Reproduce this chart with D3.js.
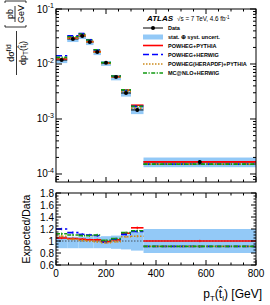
<!DOCTYPE html>
<html>
<head>
<meta charset="utf-8">
<script src="https://cdn.jsdelivr.net/npm/d3@7"></script>
<style>
  body { margin: 0; background: #fff; }
  svg { display: block; font-family: "Liberation Sans", Arial, Helvetica, sans-serif; }
</style>
</head>
<body>
<svg id="chart" width="270" height="305"></svg>
<script>
// bins of p_T(t_l) in GeV
const binEdges = [0, 45, 90, 120, 150, 180, 220, 260, 300, 350, 800];

// measured fiducial cross-section, pb/GeV
const dataXs = [0.0118, 0.0285, 0.0323, 0.0251, 0.0165, 0.0105, 0.0058, 0.00297, 0.00146, 0.000166];
// relative stat uncert. of the data
const dataStat = [0.03, 0.02, 0.02, 0.02, 0.03, 0.03, 0.04, 0.05, 0.07, 0.08];
// stat (+) syst band, relative to data
const bandLo = [0.88, 0.88, 0.88, 0.88, 0.88, 0.88, 0.87, 0.86, 0.84, 0.80];
const bandHi = [1.08, 1.07, 1.07, 1.07, 1.07, 1.08, 1.09, 1.11, 1.15, 1.20];

// Expected/Data
const ratioPowPy = [1.05, 1.04, 1.03, 1.02, 1.02, 0.99, 1.02, 1.13, 1.22, 1.00];
const ratioPowHw = [1.20, 1.14, 1.11, 1.10, 1.09, 0.98, 1.03, 1.11, 1.16, 0.91];
const ratioHera  = [1.08, 1.03, 1.01, 1.00, 0.99, 0.97, 0.99, 1.07, 1.08, 0.91];
const ratioMcnlo = [1.12, 1.10, 1.09, 1.09, 1.10, 1.01, 1.04, 1.14, 1.17, 0.91];

const models = [
  { name: "POWHEG+PYTHIA", ratio: ratioPowPy, color: "#ff0000", dash: null },
  { name: "POWHEG+HERWIG", ratio: ratioPowHw, color: "#0000ff", dash: "6,3" },
  { name: "POWHEG(HERAPDF)+PYTHIA", ratio: ratioHera, color: "#cc8a1c", dash: "1.5,1.5" },
  { name: "MC@NLO+HERWIG", ratio: ratioMcnlo, color: "#119911", dash: "4,1.5,1.2,1.5" }
];

const bandColor = "#93c9f7";

const svg = d3.select("#chart");

const left = 56, right = 256;
const top1 = 9, bot1 = 182;     // main pad
const top2 = 193, bot2 = 265;   // ratio pad

const x = d3.scaleLinear().domain([0, 800]).range([left, right]);
const y = d3.scaleLog().domain([7.15e-5, 0.1]).range([bot1, top1]);
const yr = d3.scaleLinear().domain([0.6, 1.8]).range([bot2, top2]);

const bins = dataXs.map((v, i) => ({
  i: i,
  x0: binEdges[i],
  x1: binEdges[i + 1],
  xc: (binEdges[i] + binEdges[i + 1]) / 2,
  v: v
}));

/** Main pad
------------------------------------------------------------*/

const main = svg.append("g");

main.selectAll("rect.band")
  .data(bins)
  .enter().append("rect")
  .attr("x", d => x(d.x0))
  .attr("width", d => x(d.x1) - x(d.x0))
  .attr("y", d => y(d.v * bandHi[d.i]))
  .attr("height", d => y(d.v * bandLo[d.i]) - y(d.v * bandHi[d.i]))
  .attr("fill", bandColor);

// data horizontal bars
main.selectAll("line.dbar")
  .data(bins)
  .enter().append("line")
  .attr("x1", d => x(d.x0)).attr("x2", d => x(d.x1))
  .attr("y1", d => y(d.v)).attr("y2", d => y(d.v))
  .attr("stroke", "#000").attr("stroke-width", 1);

models.forEach(m => {
  main.append("g").selectAll("line")
    .data(bins)
    .enter().append("line")
    .attr("x1", d => x(d.x0)).attr("x2", d => x(d.x1))
    .attr("y1", d => y(d.v * m.ratio[d.i])).attr("y2", d => y(d.v * m.ratio[d.i]))
    .attr("stroke", m.color)
    .attr("stroke-width", 1.6)
    .attr("stroke-dasharray", m.dash);
});

main.selectAll("line.derr")
  .data(bins)
  .enter().append("line")
  .attr("x1", d => x(d.xc)).attr("x2", d => x(d.xc))
  .attr("y1", d => y(d.v * (1 + dataStat[d.i]))).attr("y2", d => y(d.v * (1 - dataStat[d.i])))
  .attr("stroke", "#000").attr("stroke-width", 1);

main.selectAll("circle")
  .data(bins)
  .enter().append("circle")
  .attr("cx", d => x(d.xc))
  .attr("cy", d => y(d.v))
  .attr("r", 2)
  .attr("fill", "#000");

/** Ratio pad
------------------------------------------------------------*/

const rat = svg.append("g");

rat.selectAll("rect")
  .data(bins)
  .enter().append("rect")
  .attr("x", d => x(d.x0))
  .attr("width", d => x(d.x1) - x(d.x0))
  .attr("y", d => yr(2 - bandLo[d.i]))
  .attr("height", d => yr(bandLo[d.i]) - yr(2 - bandLo[d.i]))
  .attr("fill", bandColor);

// the band is asymmetric: redraw with real edges
rat.selectAll("rect")
  .attr("y", d => yr(bandHi[d.i]))
  .attr("height", d => yr(bandLo[d.i]) - yr(bandHi[d.i]));

rat.append("line")
  .attr("x1", left).attr("x2", right)
  .attr("y1", yr(1)).attr("y2", yr(1))
  .attr("stroke", "#333").attr("stroke-width", 0.8)
  .attr("stroke-dasharray", "1.5,1.5");

models.forEach(m => {
  const g = rat.append("g");
  g.selectAll("line.h")
    .data(bins)
    .enter().append("line")
    .attr("x1", d => x(d.x0)).attr("x2", d => x(d.x1))
    .attr("y1", d => yr(m.ratio[d.i])).attr("y2", d => yr(m.ratio[d.i]))
    .attr("stroke", m.color)
    .attr("stroke-width", 1.6)
    .attr("stroke-dasharray", m.dash);
  g.selectAll("line.v")
    .data(bins)
    .enter().append("line")
    .attr("x1", d => x(d.xc)).attr("x2", d => x(d.xc))
    .attr("y1", d => yr(m.ratio[d.i] + 0.02)).attr("y2", d => yr(m.ratio[d.i] - 0.02))
    .attr("stroke", m.color)
    .attr("stroke-width", 1);
});

/** Frames and ticks
------------------------------------------------------------*/

function frame(y0, y1) {
  svg.append("rect")
    .attr("x", left).attr("y", y0)
    .attr("width", right - left).attr("height", y1 - y0)
    .attr("fill", "none").attr("stroke", "#000").attr("stroke-width", 1);
}

function xTicks(y0, y1) {
  const major = d3.range(0, 801, 200);
  const minor = d3.range(0, 801, 50).filter(v => v % 200 !== 0);
  const tk = svg.append("g").attr("stroke", "#000").attr("stroke-width", 1);
  [[major, 5], [minor, 2.5]].forEach(([vals, len]) => {
    vals.forEach(v => {
      tk.append("line").attr("x1", x(v)).attr("x2", x(v)).attr("y1", y1).attr("y2", y1 - len);
      tk.append("line").attr("x1", x(v)).attr("x2", x(v)).attr("y1", y0).attr("y2", y0 + len);
    });
  });
}

function yTicks(scale, vals, len) {
  const tk = svg.append("g").attr("stroke", "#000").attr("stroke-width", 1);
  vals.forEach(v => {
    tk.append("line").attr("x1", left).attr("x2", left + len).attr("y1", scale(v)).attr("y2", scale(v));
    tk.append("line").attr("x1", right).attr("x2", right - len).attr("y1", scale(v)).attr("y2", scale(v));
  });
}

frame(top1, bot1);
frame(top2, bot2);
xTicks(top1, bot1);
xTicks(top2, bot2);

const decades = [1e-4, 1e-3, 1e-2, 1e-1];
const logMinor = [];
[1e-5, 1e-4, 1e-3, 1e-2].forEach(p => {
  for (let k = 2; k <= 9; k++) {
    const v = k * p;
    if (v >= y.domain()[0] && v <= y.domain()[1]) logMinor.push(v);
  }
});
yTicks(y, decades, 6);
yTicks(y, logMinor, 3);

const rMajor = d3.range(0.6, 1.81, 0.2);
const rMinor = d3.range(0.6, 1.8, 0.05).filter(v => Math.abs((v - 0.6) / 0.2 - Math.round((v - 0.6) / 0.2)) > 0.01);
yTicks(yr, rMajor, 5);
yTicks(yr, rMinor, 2.5);

/** Tick labels
------------------------------------------------------------*/

const yLab = svg.append("g").attr("font-size", 10).attr("fill", "#000");
decades.forEach(v => {
  const t = yLab.append("text")
    .attr("x", left - 2)
    .attr("y", y(v) + 3.5)
    .attr("text-anchor", "end");
  t.append("tspan").text("10");
  t.append("tspan").attr("font-size", 7).attr("dy", -4.5).text("-" + Math.round(-Math.log10(v)));
});

rMajor.forEach(v => {
  yLab.append("text")
    .attr("x", left - 2)
    .attr("y", yr(v) + 3.5)
    .attr("text-anchor", "end")
    .text(d3.format("~g")(+v.toFixed(1)));
});

d3.range(0, 801, 200).forEach(v => {
  yLab.append("text")
    .attr("x", x(v))
    .attr("y", bot2 + 12)
    .attr("text-anchor", "middle")
    .text(v);
});

/** Axis titles
------------------------------------------------------------*/

const xt = svg.append("text")
  .attr("x", 262).attr("y", 298)
  .attr("text-anchor", "end")
  .attr("font-size", 12);
xt.append("tspan").text("p");
xt.append("tspan").attr("font-size", 8).attr("dy", 3).text("T");
xt.append("tspan").attr("dy", -3).text("(t\u0302");
xt.append("tspan").attr("font-size", 8).attr("dy", 3).text("l");
xt.append("tspan").attr("dy", -3).text(") [GeV]");

svg.append("text")
  .attr("transform", `translate(30, ${(top2 + bot2) / 2}) rotate(-90)`)
  .attr("text-anchor", "middle")
  .attr("font-size", 10.5)
  .text("Expected/Data");

// dsigma/dpT [pb/GeV], drawn rotated
const yt = svg.append("g").attr("transform", "rotate(-90)").attr("font-size", 9);

const num = yt.append("text").attr("x", -53).attr("y", 14).attr("text-anchor", "middle");
num.append("tspan").text("d\u03c3");
num.append("tspan").attr("font-size", 6.5).attr("dy", -3.5).text("fid");

yt.append("line").attr("x1", -75).attr("x2", -31).attr("y1", 16.5).attr("y2", 16.5)
  .attr("stroke", "#000").attr("stroke-width", 0.8);

const den = yt.append("text").attr("x", -53).attr("y", 25.5).attr("text-anchor", "middle");
den.append("tspan").text("dp");
den.append("tspan").attr("font-size", 6.5).attr("dy", 2.5).text("T");
den.append("tspan").attr("dy", -2.5).text("(t\u0302");
den.append("tspan").attr("font-size", 6.5).attr("dy", 2.5).text("l");
den.append("tspan").attr("dy", -2.5).text(")");

yt.append("text").attr("x", -14).attr("y", 13).attr("text-anchor", "middle").text("pb");
yt.append("line").attr("x1", -22).attr("x2", -6).attr("y1", 15).attr("y2", 15)
  .attr("stroke", "#000").attr("stroke-width", 0.8);
yt.append("text").attr("x", -14).attr("y", 23.5).attr("text-anchor", "middle").text("GeV");
// brackets
yt.append("path")
  .attr("d", "M-25,5 L-27,5 L-27,26 L-25,26 M-3,5 L-1,5 L-1,26 L-3,26")
  .attr("fill", "none").attr("stroke", "#000").attr("stroke-width", 0.8);

/** Legend
------------------------------------------------------------*/

const leg = svg.append("g");
const atlas = leg.append("text").attr("x", 147).attr("y", 21);
atlas.append("tspan").attr("font-size", 8).attr("font-weight", "bold").attr("font-style", "italic").text("ATLAS");
atlas.append("tspan").attr("font-size", 6.3).attr("dx", 4).text("\u221As = 7 TeV, 4.6 fb");
atlas.append("tspan").attr("font-size", 4.5).attr("dy", -2.5).text("-1");

const legY = [28, 37, 45.5, 54.5, 64, 73];
const symX0 = 143, symX1 = 163, textX = 168;
const legLabels = ["Data", "stat. \u2295 syst. uncert."].concat(models.map(m => m.name));

legLabels.forEach((lbl, i) => {
  leg.append("text")
    .attr("x", textX).attr("y", legY[i] + 2)
    .attr("font-size", 5.5).attr("font-weight", "bold")
    .text(lbl);
});

leg.append("line").attr("x1", symX0).attr("x2", symX1).attr("y1", legY[0]).attr("y2", legY[0])
  .attr("stroke", "#000").attr("stroke-width", 1);
leg.append("circle").attr("cx", (symX0 + symX1) / 2).attr("cy", legY[0]).attr("r", 2).attr("fill", "#000");
leg.append("rect").attr("x", symX0).attr("y", legY[1] - 2.5).attr("width", symX1 - symX0).attr("height", 5)
  .attr("fill", bandColor);
models.forEach((m, i) => {
  leg.append("line").attr("x1", symX0).attr("x2", symX1).attr("y1", legY[i + 2]).attr("y2", legY[i + 2])
    .attr("stroke", m.color).attr("stroke-width", 1.6).attr("stroke-dasharray", m.dash);
});
</script>
</body>
</html>
